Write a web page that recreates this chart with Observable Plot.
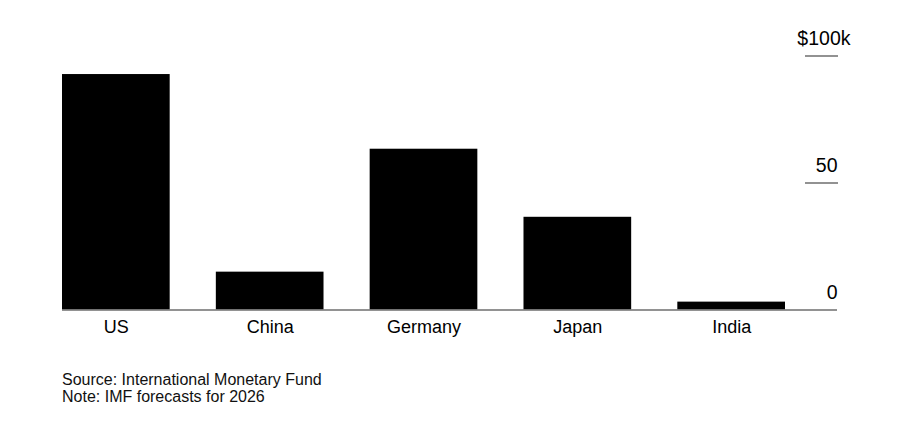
<!DOCTYPE html>
<html>
<head>
<meta charset="utf-8">
<script src="https://cdn.jsdelivr.net/npm/d3@7"></script>
<script src="https://cdn.jsdelivr.net/npm/@observablehq/plot@0.6"></script>
<style>
  html, body { margin: 0; padding: 0; background: #fff; }
  body { width: 900px; height: 432px; font-family: "Liberation Sans", Arial, Helvetica, sans-serif; }
  #caption { margin-top: 11px; padding-left: 62px; font-size: 16px; line-height: 17px; color: #111; }
  #caption div { white-space: nowrap; }
  #chart svg { display: block; }
</style>
</head>
<body>
<div id="chart"></div>
<div id="caption">
  <div>Source: International Monetary Fund</div>
  <div>Note: IMF forecasts for 2026</div>
</div>
<script>
const countries = ["US", "China", "Germany", "Japan", "India"];
const gdpPerCapita = [92.7, 14.9, 63.3, 36.5, 3.1]; // thousands of US dollars
const yTicks = [0, 50, 100];
const yTickLabels = ["0", "50", "$100k"];

const data = countries.map((c, i) => ({country: c, value: gdpPerCapita[i]}));
const labelOf = new Map(yTicks.map((t, i) => [t, yTickLabels[i]]));

const chart = Plot.plot({
  width: 900,
  height: 360,
  marginLeft: 62,
  marginRight: 115,
  marginTop: 55.5,
  marginBottom: 50.5,
  style: {fontFamily: '"Liberation Sans", Arial, Helvetica, sans-serif', color: "#000", background: "#fff"},
  x: {domain: countries, paddingInner: 0.3, paddingOuter: 0, round: false, label: null},
  y: {domain: [0, 100], label: null},
  marks: [
    Plot.barY(data, {x: "country", y: "value", fill: "#000", inset: 0}),
    Plot.ruleY([0], {stroke: "#6e6e6e", strokeWidth: 1.5, insetRight: -52}),
    Plot.axisY([50, 100], {anchor: "right", tickSize: 33, dx: 19, stroke: "#6e6e6e", strokeWidth: 1.5, tickFormat: () => "", label: null}),
    Plot.axisY([0, 50], {anchor: "right", tickSize: 0, tickPadding: 0, textAnchor: "end", dx: 52, dy: -17,
      fontSize: 19.5, fill: "#000", tickFormat: d => labelOf.get(d), label: null}),
    Plot.axisY([100], {anchor: "right", tickSize: 0, tickPadding: 0, textAnchor: "end", dx: 65, dy: -17,
      fontSize: 19.5, fill: "#000", tickFormat: d => labelOf.get(d), label: null}),
    Plot.axisX({tickSize: 0, tickPadding: 10, fontSize: 18, fill: "#000", label: null})
  ]
});
document.getElementById("chart").append(chart);
</script>
</body>
</html>
